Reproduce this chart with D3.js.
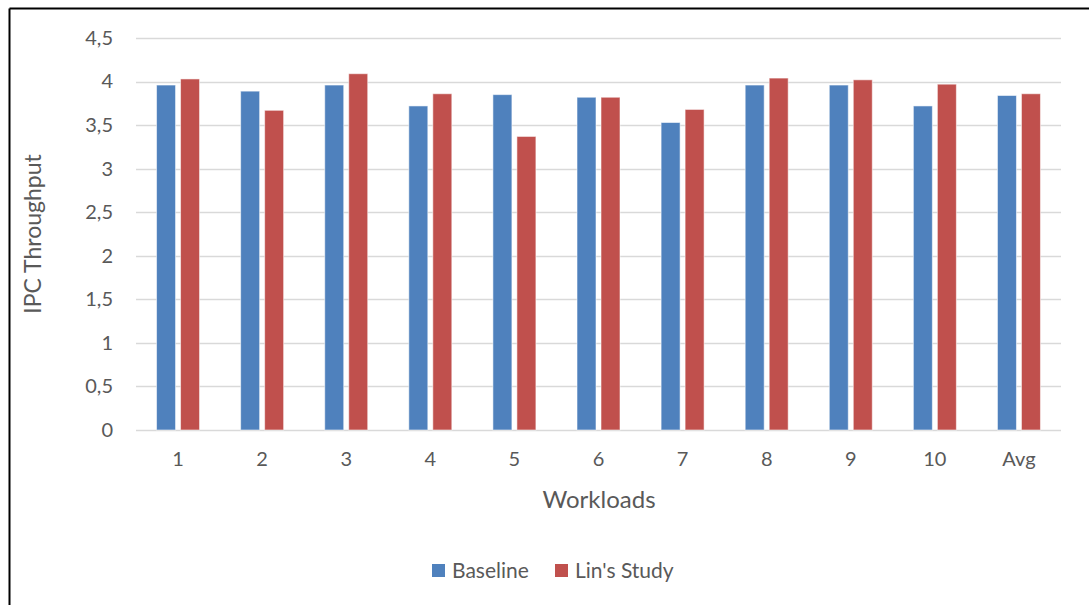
<!DOCTYPE html>
<html>
<head>
<meta charset="utf-8">
<script src="https://cdn.jsdelivr.net/npm/d3@7"></script>
<style>
  html, body { margin: 0; padding: 0; background: #fff; }
  svg { display: block; font-family: Lato, "Open Sans", sans-serif; }
</style>
</head>
<body>
<svg id="chart" width="1089" height="605"></svg>
<script>
// Workload categories and IPC throughput per configuration
const categories = ["1", "2", "3", "4", "5", "6", "7", "8", "9", "10", "Avg"];
const baseline   = [3.96, 3.89, 3.96, 3.72, 3.85, 3.82, 3.53, 3.96, 3.96, 3.72, 3.84];
const linsStudy  = [4.03, 3.67, 4.09, 3.86, 3.37, 3.82, 3.68, 4.04, 4.02, 3.97, 3.86];
const seriesNames = ["Baseline", "Lin's Study"];
const yTicks = [0, 0.5, 1, 1.5, 2, 2.5, 3, 3.5, 4, 4.5];
const colors = ["#4F81BD", "#C0504D"];

const svg = d3.select("#chart");
const W = 1089, H = 605;
const margin = { left: 136, right: 28, top: 38, bottom: 175 };
const innerW = W - margin.left - margin.right;
const innerH = H - margin.top - margin.bottom;
const textColor = "#595959";
const fmt = v => String(v).replace(".", ",");

// outer frame (top and left edges)
svg.append("line").attr("x1", 9.5).attr("x2", W).attr("y1", 8.5).attr("y2", 8.5)
  .attr("stroke", "#000").attr("stroke-width", 2);
svg.append("line").attr("x1", 9.5).attr("x2", 9.5).attr("y1", 8.5).attr("y2", H)
  .attr("stroke", "#000").attr("stroke-width", 2);

const g = svg.append("g").attr("transform", `translate(${margin.left},${margin.top})`);

const x = d3.scaleBand().domain(categories).range([0, innerW]);
const y = d3.scaleLinear().domain([0, 4.5]).range([innerH, 0]);

// horizontal gridlines
g.append("g").selectAll("line").data(yTicks).join("line")
  .attr("x1", 0).attr("x2", innerW)
  .attr("y1", d => Math.round(y(d)) + 0.5).attr("y2", d => Math.round(y(d)) + 0.5)
  .attr("stroke", "#d9d9d9").attr("stroke-width", 1.5);

// y axis labels
const yAxis = g.append("g").call(d3.axisLeft(y).tickValues(yTicks).tickFormat(fmt).tickSize(0).tickPadding(23));
yAxis.select(".domain").remove();
yAxis.selectAll("text").attr("fill", textColor).style("font-size", "20px")
  .style("font-family", "Lato, 'Open Sans', sans-serif");

// x axis labels
const xAxis = g.append("g").attr("transform", `translate(0,${innerH})`)
  .call(d3.axisBottom(x).tickSize(0).tickPadding(22));
xAxis.select(".domain").remove();
xAxis.selectAll("text").attr("fill", textColor).style("font-size", "20px")
  .style("font-family", "Lato, 'Open Sans', sans-serif");

// grouped bars
const barW = 19, gap = 5;
const x1 = d3.scaleOrdinal().domain([0, 1]).range([-(barW + gap / 2), gap / 2]);
const rows = categories.map((c, i) => ({ c, vals: [baseline[i], linsStudy[i]] }));
const groups = g.append("g").selectAll("g").data(rows).join("g")
  .attr("transform", d => `translate(${x(d.c) + x.bandwidth() / 2},0)`);
groups.selectAll("rect").data(d => d.vals.map((v, k) => ({ v, k }))).join("rect")
  .attr("x", d => x1(d.k))
  .attr("y", d => y(d.v))
  .attr("width", barW)
  .attr("height", d => innerH - y(d.v))
  .attr("fill", d => colors[d.k])
  .attr("stroke", "#ffffff").attr("stroke-opacity", 0.55).attr("stroke-width", 1);

// axis titles
svg.append("text").attr("x", 599).attr("y", 508).attr("text-anchor", "middle")
  .attr("fill", textColor).style("font-size", "24px").text("Workloads");
svg.append("text").attr("transform", `translate(41,${margin.top + innerH / 2}) rotate(-90)`)
  .attr("text-anchor", "middle").attr("fill", textColor).style("font-size", "23px")
  .text("IPC Throughput");

// legend
const legend = svg.append("g");
const legendItems = [{ name: seriesNames[0], x: 432 }, { name: seriesNames[1], x: 555 }];
legendItems.forEach((it, i) => {
  legend.append("rect").attr("x", it.x).attr("y", 564).attr("width", 13).attr("height", 13)
    .attr("fill", colors[i]);
  legend.append("text").attr("x", it.x + 20).attr("y", 578).attr("fill", textColor)
    .style("font-size", "21px").text(it.name);
});
</script>
</body>
</html>
